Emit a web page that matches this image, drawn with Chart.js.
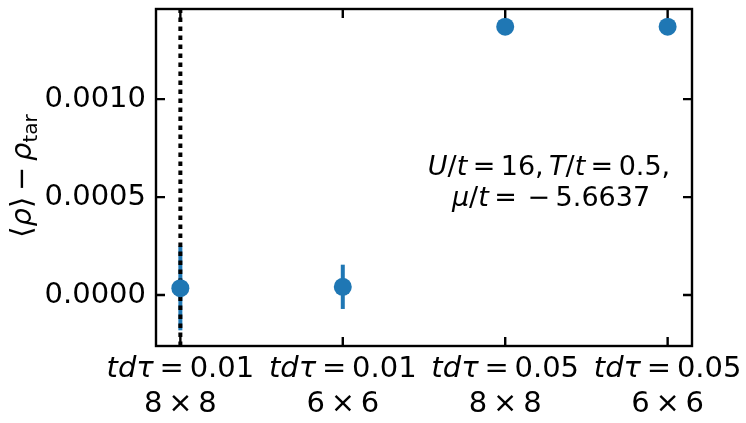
<!DOCTYPE html>
<html>
<head>
<meta charset="utf-8">
<script src="https://cdn.jsdelivr.net/npm/chart.js@4"></script>
<style>
  html, body { margin: 0; padding: 0; background: #fff; }
  canvas { display: block; }
</style>
</head>
<body>
<canvas id="chart" width="746" height="423"></canvas>
<script>
// data
const categoryIndex = [0, 1, 2, 3];
const tauLabels = ['0.01', '0.01', '0.05', '0.05'];
const latticeSizes = ['8', '6', '8', '6'];
const densityDiff = [0.000035, 0.000042, 0.00137, 0.00137];
const densityErr = [0.000215, 0.000113, 0.000002, 0.000002];
const yTickStep = 0.0005;
const xLimits = [-0.15, 3.15];
const yLimits = [-0.00026, 0.00146];
const refLineX = 0;

const BLUE = '#1f77b4';
const FONT = "'DejaVu Sans'";
const FS = 29;      // tick labels, axis title
const FS_NOTE = 27; // annotation

// draw a row of text pieces, mathtext style (italic vars, small gaps), centred on cx
function drawPieces(ctx, pieces, cx, y, size) {
    let total = 0;
    pieces.forEach(p => {
        const s = p.size || size;
        ctx.font = (p.it ? 'italic ' : '') + s + 'px ' + FONT;
        p.w = p.gap ? p.gap * size : ctx.measureText(p.t).width;
        total += p.w;
    });
    let x = cx - total / 2;
    ctx.textAlign = 'left';
    ctx.textBaseline = 'alphabetic';
    pieces.forEach(p => {
        const s = p.size || size;
        ctx.font = (p.it ? 'italic ' : '') + s + 'px ' + FONT;
        if (!p.gap) ctx.fillText(p.t, x, y + (p.dy || 0));
        x += p.w;
    });
}

const G = { gap: 0.2 };

const errorBars = {
    id: 'errorBars',
    beforeDatasetsDraw(chart) {
        const ctx = chart.ctx;
        const xs = chart.scales.x, ys = chart.scales.y;
        ctx.save();
        ctx.strokeStyle = BLUE;
        ctx.lineWidth = 4;
        categoryIndex.forEach((c, i) => {
            const px = xs.getPixelForValue(c);
            ctx.beginPath();
            ctx.moveTo(px, ys.getPixelForValue(densityDiff[i] - densityErr[i]));
            ctx.lineTo(px, ys.getPixelForValue(densityDiff[i] + densityErr[i]));
            ctx.stroke();
        });
        ctx.restore();
    }
};

const frame = {
    id: 'frame',
    afterDraw(chart) {
        const ctx = chart.ctx;
        const a = chart.chartArea;
        const xs = chart.scales.x, ys = chart.scales.y;
        const tl = 9;
        ctx.save();
        ctx.strokeStyle = '#000';
        ctx.lineWidth = 2.4;
        ctx.strokeRect(a.left, a.top, a.right - a.left, a.bottom - a.top);

        // inward ticks, all four sides
        ctx.beginPath();
        categoryIndex.forEach(c => {
            const px = xs.getPixelForValue(c);
            ctx.moveTo(px, a.bottom); ctx.lineTo(px, a.bottom - tl);
            ctx.moveTo(px, a.top); ctx.lineTo(px, a.top + tl);
        });
        ys.ticks.forEach(t => {
            const k = t.value / yTickStep;
            if (Math.abs(k - Math.round(k)) > 1e-6) return;
            const py = ys.getPixelForValue(t.value);
            ctx.moveTo(a.left, py); ctx.lineTo(a.left + tl, py);
            ctx.moveTo(a.right, py); ctx.lineTo(a.right - tl, py);
        });
        ctx.stroke();

        // x tick labels, two lines each
        ctx.fillStyle = '#000';
        categoryIndex.forEach((c, i) => {
            const px = xs.getPixelForValue(c);
            drawPieces(ctx, [
                { t: 'tdτ', it: true }, G, { t: '=' }, G, { t: tauLabels[i] }
            ], px, a.bottom + 31, FS);
            drawPieces(ctx, [
                { t: latticeSizes[i] }, G, { t: '×' }, G, { t: latticeSizes[i] }
            ], px, a.bottom + 66, FS);
        });

        // parameter annotation
        drawPieces(ctx, [
            { t: 'U', it: true }, { t: '/' }, { t: 't', it: true }, G, { t: '=' }, G, { t: '16,' }, G,
            { t: 'T', it: true }, { t: '/' }, { t: 't', it: true }, G, { t: '=' }, G, { t: '0.5,' }
        ], 549, 175, FS_NOTE);
        drawPieces(ctx, [
            { t: 'μ', it: true }, { t: '/' }, { t: 't', it: true }, G, { t: '=' }, G, G,
            { t: '−' }, G, { t: '5.6637' }
        ], 551, 206, FS_NOTE);

        // y axis title, rotated
        ctx.translate(31, 176);
        ctx.rotate(-Math.PI / 2);
        drawPieces(ctx, [
            { t: '⟨' }, { t: 'ρ', it: true }, { t: '⟩' }, G, { t: '−' }, G, { t: 'ρ', it: true },
            { t: 'tar', size: 20, dy: 6 }
        ], 0, 0, FS);
        ctx.restore();
    }
};

new Chart(document.getElementById('chart'), {
    type: 'scatter',
    data: {
        datasets: [
            {
                data: categoryIndex.map((c, i) => ({ x: c, y: densityDiff[i] })),
                pointRadius: 9,
                pointHoverRadius: 9,
                pointBackgroundColor: BLUE,
                pointBorderWidth: 0,
                order: 1
            },
            {
                type: 'line',
                data: [{ x: refLineX, y: yLimits[0] }, { x: refLineX, y: yLimits[1] }],
                borderColor: '#000',
                borderWidth: 4,
                borderDash: [4.5, 4.5],
                borderCapStyle: 'butt',
                pointRadius: 0,
                order: 2
            }
        ]
    },
    options: {
        responsive: false,
        animation: false,
        events: [],
        layout: { padding: { left: 0, right: 54, top: 4, bottom: 0 } },
        plugins: { legend: { display: false }, tooltip: { enabled: false } },
        scales: {
            x: {
                type: 'linear',
                min: xLimits[0],
                max: xLimits[1],
                grid: { display: false },
                border: { display: false },
                ticks: { display: false },
                afterFit(scale) {
                    scale.height = 77;
                    scale.paddingLeft = 0;
                    scale.paddingRight = 0;
                }
            },
            y: {
                min: yLimits[0],
                max: yLimits[1],
                grid: { display: false, drawTicks: false },
                border: { display: false },
                ticks: {
                    stepSize: yTickStep,
                    includeBounds: false,
                    padding: 10,
                    color: '#000',
                    font: { family: 'DejaVu Sans', size: FS },
                    callback(v) {
                        const k = v / yTickStep;
                        return Math.abs(k - Math.round(k)) < 1e-6 ? v.toFixed(4) : '';
                    }
                },
                afterFit(scale) {
                    scale.width = 156;
                    scale.paddingTop = 0;
                    scale.paddingBottom = 0;
                }
            }
        }
    },
    plugins: [errorBars, frame]
});
</script>
</body>
</html>
